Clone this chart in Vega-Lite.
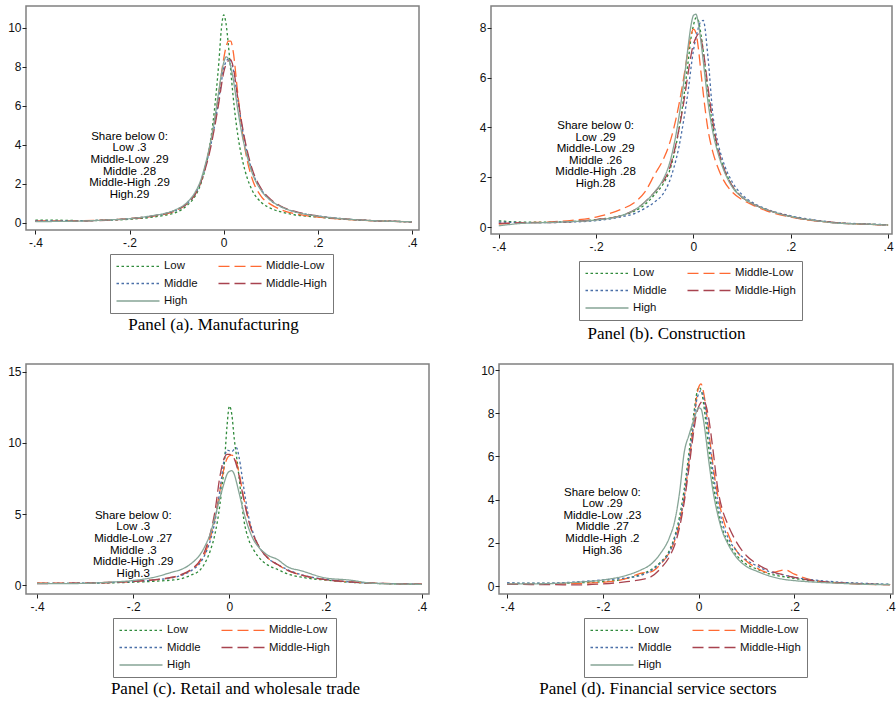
{
  "$schema": "https://vega.github.io/schema/vega-lite/v6.json",
  "background": "white",
  "padding": {"left": 6, "top": 5, "right": 3, "bottom": 3},
  "config": {
    "view": {"stroke": "#808080", "strokeWidth": 1.5},
    "font": "Liberation Sans",
    "axis": {"grid": false, "domain": false, "ticks": true, "tickColor": "#222", "tickSize": 4, "tickWidth": 1, "labelFont": "Liberation Sans", "labelFontSize": 12, "labelColor": "#111"},
    "axisX": {"labelPadding": 3},
    "axisY": {"labelPadding": 1, "labelAngle": 0},
    "legend": {"direction": "horizontal", "columns": 2, "gridAlign": "each", "symbolType": "M-4.3,0H4.3", "symbolSize": 100, "symbolOffset": 16, "labelOffset": 20, "symbolStrokeWidth": 1.3, "labelFont": "Liberation Sans", "labelFontSize": 11.4, "labelColor": "#111", "strokeColor": "#777", "padding": 6, "rowPadding": 5.5, "columnPadding": 17},
    "title": {"orient": "bottom", "anchor": "middle", "frame": "group", "offset": 3, "font": "Liberation Serif", "fontSize": 17, "fontWeight": "normal", "color": "#000"},
    "line": {"strokeWidth": 1.3, "interpolate": "monotone"}
  },
  "spacing": 20,
  "resolve": {"scale": {"color": "independent", "strokeDash": "independent"}, "legend": {"color": "independent", "strokeDash": "independent"}},
  "vconcat": [
    {
      "spacing": 58,
      "resolve": {"scale": {"color": "independent", "strokeDash": "independent"}, "legend": {"color": "independent", "strokeDash": "independent"}},
      "hconcat": [
        {
          "width": 393, "height": 224,
          "title": {"text": "Panel (a). Manufacturing", "dx": -9},
          "layer": [
            {
              "data": {"values": [
                {"x": -0.4, "Low": 0.15, "Middle-Low": 0.1, "Middle": 0.1, "Middle-High": 0.08, "High": 0.07},
                {"x": -0.35, "Low": 0.14, "Middle-Low": 0.1, "Middle": 0.1, "Middle-High": 0.08, "High": 0.08},
                {"x": -0.3, "Low": 0.12, "Middle-Low": 0.12, "Middle": 0.11, "Middle-High": 0.1, "High": 0.1},
                {"x": -0.25, "Low": 0.14, "Middle-Low": 0.15, "Middle": 0.15, "Middle-High": 0.14, "High": 0.15},
                {"x": -0.2, "Low": 0.19, "Middle-Low": 0.22, "Middle": 0.22, "Middle-High": 0.21, "High": 0.22},
                {"x": -0.15, "Low": 0.3, "Middle-Low": 0.35, "Middle": 0.36, "Middle-High": 0.36, "High": 0.38},
                {"x": -0.12, "Low": 0.42, "Middle-Low": 0.48, "Middle": 0.5, "Middle-High": 0.5, "High": 0.52},
                {"x": -0.1, "Low": 0.55, "Middle-Low": 0.65, "Middle": 0.66, "Middle-High": 0.68, "High": 0.7},
                {"x": -0.08, "Low": 0.85, "Middle-Low": 0.95, "Middle": 0.95, "Middle-High": 0.95, "High": 1.0},
                {"x": -0.06, "Low": 1.4, "Middle-Low": 1.5, "Middle": 1.5, "Middle-High": 1.5, "High": 1.6},
                {"x": -0.05, "Low": 1.9, "Middle-Low": 2.0, "Middle": 2.0, "Middle-High": 2.0, "High": 2.1},
                {"x": -0.04, "Low": 2.7, "Middle-Low": 2.8, "Middle": 2.8, "Middle-High": 2.7, "High": 2.9},
                {"x": -0.03, "Low": 3.9, "Middle-Low": 3.8, "Middle": 3.7, "Middle-High": 3.6, "High": 3.9},
                {"x": -0.02, "Low": 5.7, "Middle-Low": 5.1, "Middle": 4.9, "Middle-High": 4.8, "High": 5.2},
                {"x": -0.01, "Low": 8.3, "Middle-Low": 6.7, "Middle": 6.4, "Middle-High": 6.2, "High": 6.8},
                {"x": -0.005, "Low": 9.9, "Middle-Low": 7.6, "Middle": 7.2, "Middle-High": 7.0, "High": 7.6},
                {"x": 0, "Low": 10.65, "Middle-Low": 8.4, "Middle": 7.9, "Middle-High": 7.7, "High": 8.2},
                {"x": 0.005, "Low": 10.2, "Middle-Low": 9.0, "Middle": 8.25, "Middle-High": 8.1, "High": 8.5},
                {"x": 0.01, "Low": 9.1, "Middle-Low": 9.3, "Middle": 8.4, "Middle-High": 8.3, "High": 8.4},
                {"x": 0.015, "Low": 7.8, "Middle-Low": 9.3, "Middle": 8.3, "Middle-High": 8.35, "High": 8.0},
                {"x": 0.02, "Low": 6.5, "Middle-Low": 8.8, "Middle": 7.9, "Middle-High": 8.0, "High": 7.4},
                {"x": 0.03, "Low": 4.5, "Middle-Low": 6.6, "Middle": 6.3, "Middle-High": 6.4, "High": 5.8},
                {"x": 0.04, "Low": 3.2, "Middle-Low": 4.6, "Middle": 4.8, "Middle-High": 4.9, "High": 4.4},
                {"x": 0.05, "Low": 2.3, "Middle-Low": 3.2, "Middle": 3.6, "Middle-High": 3.7, "High": 3.4},
                {"x": 0.06, "Low": 1.7, "Middle-Low": 2.3, "Middle": 2.7, "Middle-High": 2.8, "High": 2.6},
                {"x": 0.08, "Low": 1.05, "Middle-Low": 1.35, "Middle": 1.7, "Middle-High": 1.75, "High": 1.65},
                {"x": 0.1, "Low": 0.75, "Middle-Low": 0.95, "Middle": 1.15, "Middle-High": 1.2, "High": 1.15},
                {"x": 0.12, "Low": 0.58, "Middle-Low": 0.7, "Middle": 0.85, "Middle-High": 0.88, "High": 0.85},
                {"x": 0.15, "Low": 0.42, "Middle-Low": 0.48, "Middle": 0.58, "Middle-High": 0.6, "High": 0.58},
                {"x": 0.2, "Low": 0.3, "Middle-Low": 0.3, "Middle": 0.36, "Middle-High": 0.36, "High": 0.35},
                {"x": 0.25, "Low": 0.2, "Middle-Low": 0.2, "Middle": 0.22, "Middle-High": 0.22, "High": 0.22},
                {"x": 0.3, "Low": 0.13, "Middle-Low": 0.13, "Middle": 0.14, "Middle-High": 0.14, "High": 0.14},
                {"x": 0.35, "Low": 0.09, "Middle-Low": 0.09, "Middle": 0.09, "Middle-High": 0.09, "High": 0.09},
                {"x": 0.4, "Low": 0.06, "Middle-Low": 0.06, "Middle": 0.06, "Middle-High": 0.06, "High": 0.06}
              ]},
              "transform": [{"fold": ["Low", "Middle-Low", "Middle", "Middle-High", "High"], "as": ["group", "density"]}],
              "mark": {"type": "line", "clip": true},
              "encoding": {
                "x": {"field": "x", "type": "quantitative", "scale": {"domain": [-0.42, 0.415], "nice": false, "zero": false}, "axis": {"title": null, "values": [-0.4, -0.2, 0, 0.2, 0.4], "labelExpr": "datum.value == 0 ? '0' : (datum.value < 0 ? '-' : '') + replace(format(abs(datum.value), '.1f'), '0.', '.')"}},
                "y": {"field": "density", "type": "quantitative", "scale": {"domain": [-0.36, 11.1], "nice": false, "zero": false}, "axis": {"title": null, "values": [0, 2, 4, 6, 8, 10]}},
                "color": {"field": "group", "type": "nominal", "scale": {"domain": ["Low", "Middle-Low", "Middle", "Middle-High", "High"], "range": ["#2f8a3b", "#ff6a33", "#4a6fa8", "#a8434f", "#87a597"]}, "legend": {"title": null, "orient": "none", "legendX": 84, "legendY": 248}},
                "strokeDash": {"field": "group", "type": "nominal", "scale": {"domain": ["Low", "Middle-Low", "Middle", "Middle-High", "High"], "range": [[2.5, 2.5], [11, 5], [2.5, 2.5], [11, 5], [1, 0]]}}
              }
            },
            {
              "data": {"values": [{"x": -0.2, "y": 4.72, "label": ["Share below 0:", "Low .3", "Middle-Low .29", "Middle .28", "Middle-High .29", "High.29"]}]},
              "mark": {"type": "text", "align": "center", "baseline": "top", "font": "Liberation Sans", "fontSize": 11.5, "lineHeight": 11.6, "color": "#000"},
              "encoding": {
                "x": {"field": "x", "type": "quantitative", "scale": {"domain": [-0.42, 0.415], "nice": false, "zero": false}},
                "y": {"field": "y", "type": "quantitative", "scale": {"domain": [-0.36, 11.1], "nice": false, "zero": false}},
                "text": {"field": "label"}
              }
            }
          ]
        },
        {
          "width": 401, "height": 228,
          "title": {"text": "Panel (b). Construction", "dx": -25, "offset": 5},
          "layer": [
            {
              "data": {"values": [
                {"x": -0.4, "Low": 0.25, "Middle-Low": 0.12, "Middle": 0.2, "Middle-High": 0.15, "High": 0.05},
                {"x": -0.35, "Low": 0.2, "Middle-Low": 0.17, "Middle": 0.18, "Middle-High": 0.17, "High": 0.15},
                {"x": -0.3, "Low": 0.2, "Middle-Low": 0.2, "Middle": 0.18, "Middle-High": 0.18, "High": 0.18},
                {"x": -0.25, "Low": 0.22, "Middle-Low": 0.27, "Middle": 0.2, "Middle-High": 0.22, "High": 0.22},
                {"x": -0.2, "Low": 0.3, "Middle-Low": 0.4, "Middle": 0.26, "Middle-High": 0.3, "High": 0.28},
                {"x": -0.15, "Low": 0.45, "Middle-Low": 0.7, "Middle": 0.4, "Middle-High": 0.45, "High": 0.45},
                {"x": -0.12, "Low": 0.65, "Middle-Low": 1.0, "Middle": 0.55, "Middle-High": 0.7, "High": 0.7},
                {"x": -0.1, "Low": 0.9, "Middle-Low": 1.4, "Middle": 0.75, "Middle-High": 1.0, "High": 1.0},
                {"x": -0.08, "Low": 1.3, "Middle-Low": 2.1, "Middle": 1.0, "Middle-High": 1.4, "High": 1.4},
                {"x": -0.06, "Low": 1.8, "Middle-Low": 2.8, "Middle": 1.4, "Middle-High": 1.9, "High": 2.0},
                {"x": -0.05, "Low": 2.2, "Middle-Low": 3.3, "Middle": 1.8, "Middle-High": 2.3, "High": 2.5},
                {"x": -0.04, "Low": 2.9, "Middle-Low": 4.0, "Middle": 2.4, "Middle-High": 3.0, "High": 3.3},
                {"x": -0.03, "Low": 3.9, "Middle-Low": 4.9, "Middle": 3.2, "Middle-High": 3.9, "High": 4.4},
                {"x": -0.02, "Low": 5.2, "Middle-Low": 6.0, "Middle": 4.3, "Middle-High": 5.0, "High": 5.8},
                {"x": -0.01, "Low": 6.8, "Middle-Low": 7.2, "Middle": 5.6, "Middle-High": 6.3, "High": 7.4},
                {"x": -0.005, "Low": 7.6, "Middle-Low": 7.7, "Middle": 6.4, "Middle-High": 6.9, "High": 8.1},
                {"x": 0, "Low": 8.1, "Middle-Low": 7.95, "Middle": 7.1, "Middle-High": 7.35, "High": 8.5},
                {"x": 0.005, "Low": 8.4, "Middle-Low": 7.8, "Middle": 7.6, "Middle-High": 7.6, "High": 8.55},
                {"x": 0.01, "Low": 8.3, "Middle-Low": 7.2, "Middle": 8.0, "Middle-High": 7.75, "High": 8.2},
                {"x": 0.015, "Low": 7.8, "Middle-Low": 6.3, "Middle": 8.25, "Middle-High": 7.6, "High": 7.5},
                {"x": 0.02, "Low": 7.1, "Middle-Low": 5.4, "Middle": 8.3, "Middle-High": 7.1, "High": 6.7},
                {"x": 0.03, "Low": 5.4, "Middle-Low": 3.9, "Middle": 6.8, "Middle-High": 5.6, "High": 5.0},
                {"x": 0.04, "Low": 4.0, "Middle-Low": 3.0, "Middle": 4.5, "Middle-High": 4.2, "High": 3.8},
                {"x": 0.05, "Low": 3.1, "Middle-Low": 2.4, "Middle": 3.4, "Middle-High": 3.2, "High": 3.0},
                {"x": 0.06, "Low": 2.5, "Middle-Low": 1.95, "Middle": 2.7, "Middle-High": 2.5, "High": 2.4},
                {"x": 0.08, "Low": 1.65, "Middle-Low": 1.4, "Middle": 1.8, "Middle-High": 1.65, "High": 1.6},
                {"x": 0.1, "Low": 1.2, "Middle-Low": 1.1, "Middle": 1.3, "Middle-High": 1.2, "High": 1.2},
                {"x": 0.12, "Low": 0.95, "Middle-Low": 0.9, "Middle": 1.0, "Middle-High": 0.95, "High": 0.95},
                {"x": 0.15, "Low": 0.7, "Middle-Low": 0.65, "Middle": 0.72, "Middle-High": 0.7, "High": 0.7},
                {"x": 0.2, "Low": 0.42, "Middle-Low": 0.4, "Middle": 0.45, "Middle-High": 0.42, "High": 0.42},
                {"x": 0.25, "Low": 0.26, "Middle-Low": 0.25, "Middle": 0.28, "Middle-High": 0.26, "High": 0.26},
                {"x": 0.3, "Low": 0.16, "Middle-Low": 0.16, "Middle": 0.17, "Middle-High": 0.16, "High": 0.15},
                {"x": 0.35, "Low": 0.12, "Middle-Low": 0.12, "Middle": 0.13, "Middle-High": 0.12, "High": 0.12},
                {"x": 0.4, "Low": 0.08, "Middle-Low": 0.08, "Middle": 0.09, "Middle-High": 0.08, "High": 0.08}
              ]},
              "transform": [{"fold": ["Low", "Middle-Low", "Middle", "Middle-High", "High"], "as": ["group", "density"]}],
              "mark": {"type": "line", "clip": true},
              "encoding": {
                "x": {"field": "x", "type": "quantitative", "scale": {"domain": [-0.416, 0.408], "nice": false, "zero": false}, "axis": {"title": null, "values": [-0.4, -0.2, 0, 0.2, 0.4], "labelExpr": "datum.value == 0 ? '0' : (datum.value < 0 ? '-' : '') + replace(format(abs(datum.value), '.1f'), '0.', '.')"}},
                "y": {"field": "density", "type": "quantitative", "scale": {"domain": [-0.28, 8.88], "nice": false, "zero": false}, "axis": {"title": null, "values": [0, 2, 4, 6, 8]}},
                "color": {"field": "group", "type": "nominal", "scale": {"domain": ["Low", "Middle-Low", "Middle", "Middle-High", "High"], "range": ["#2f8a3b", "#ff6a33", "#4a6fa8", "#a8434f", "#87a597"]}, "legend": {"title": null, "orient": "none", "legendX": 88, "legendY": 255}},
                "strokeDash": {"field": "group", "type": "nominal", "scale": {"domain": ["Low", "Middle-Low", "Middle", "Middle-High", "High"], "range": [[2.5, 2.5], [11, 5], [2.5, 2.5], [11, 5], [1, 0]]}}
              }
            },
            {
              "data": {"values": [{"x": -0.201, "y": 4.3, "label": ["Share below 0:", "Low .29", "Middle-Low .29", "Middle .26", "Middle-High .28", "High.28"]}]},
              "mark": {"type": "text", "align": "center", "baseline": "top", "font": "Liberation Sans", "fontSize": 11.5, "lineHeight": 11.6, "color": "#000"},
              "encoding": {
                "x": {"field": "x", "type": "quantitative", "scale": {"domain": [-0.416, 0.408], "nice": false, "zero": false}},
                "y": {"field": "y", "type": "quantitative", "scale": {"domain": [-0.28, 8.88], "nice": false, "zero": false}},
                "text": {"field": "label"}
              }
            }
          ]
        }
      ]
    },
    {
      "spacing": 49,
      "resolve": {"scale": {"color": "independent", "strokeDash": "independent"}, "legend": {"color": "independent", "strokeDash": "independent"}},
      "hconcat": [
        {
          "width": 403, "height": 230,
          "title": {"text": "Panel (c). Retail and wholesale trade", "dx": 8},
          "layer": [
            {
              "data": {"values": [
                {"x": -0.4, "Low": 0.12, "Middle-Low": 0.15, "Middle": 0.12, "Middle-High": 0.1, "High": 0.1},
                {"x": -0.35, "Low": 0.12, "Middle-Low": 0.13, "Middle": 0.12, "Middle-High": 0.12, "High": 0.1},
                {"x": -0.3, "Low": 0.12, "Middle-Low": 0.14, "Middle": 0.14, "Middle-High": 0.14, "High": 0.12},
                {"x": -0.25, "Low": 0.15, "Middle-Low": 0.18, "Middle": 0.18, "Middle-High": 0.18, "High": 0.2},
                {"x": -0.2, "Low": 0.2, "Middle-Low": 0.25, "Middle": 0.25, "Middle-High": 0.26, "High": 0.32},
                {"x": -0.15, "Low": 0.28, "Middle-Low": 0.38, "Middle": 0.38, "Middle-High": 0.4, "High": 0.6},
                {"x": -0.12, "Low": 0.35, "Middle-Low": 0.52, "Middle": 0.5, "Middle-High": 0.55, "High": 0.9},
                {"x": -0.1, "Low": 0.45, "Middle-Low": 0.7, "Middle": 0.68, "Middle-High": 0.75, "High": 1.1},
                {"x": -0.08, "Low": 0.7, "Middle-Low": 1.05, "Middle": 1.0, "Middle-High": 1.1, "High": 1.5},
                {"x": -0.06, "Low": 1.1, "Middle-Low": 1.7, "Middle": 1.6, "Middle-High": 1.8, "High": 2.2},
                {"x": -0.05, "Low": 1.6, "Middle-Low": 2.3, "Middle": 2.2, "Middle-High": 2.5, "High": 2.8},
                {"x": -0.04, "Low": 2.4, "Middle-Low": 3.3, "Middle": 3.1, "Middle-High": 3.6, "High": 3.6},
                {"x": -0.03, "Low": 3.6, "Middle-Low": 4.7, "Middle": 4.5, "Middle-High": 5.2, "High": 4.8},
                {"x": -0.02, "Low": 5.6, "Middle-Low": 6.6, "Middle": 6.6, "Middle-High": 7.6, "High": 6.1},
                {"x": -0.01, "Low": 8.8, "Middle-Low": 8.4, "Middle": 9.0, "Middle-High": 9.0, "High": 7.3},
                {"x": -0.005, "Low": 11.2, "Middle-Low": 8.9, "Middle": 9.5, "Middle-High": 9.2, "High": 7.8},
                {"x": 0, "Low": 12.6, "Middle-Low": 9.1, "Middle": 9.45, "Middle-High": 9.2, "High": 8.0},
                {"x": 0.005, "Low": 12.0, "Middle-Low": 9.15, "Middle": 9.4, "Middle-High": 9.15, "High": 8.05},
                {"x": 0.01, "Low": 10.3, "Middle-Low": 9.0, "Middle": 9.55, "Middle-High": 8.9, "High": 7.8},
                {"x": 0.015, "Low": 9.0, "Middle-Low": 8.6, "Middle": 9.65, "Middle-High": 8.4, "High": 7.2},
                {"x": 0.02, "Low": 7.6, "Middle-Low": 7.9, "Middle": 9.0, "Middle-High": 7.7, "High": 6.5},
                {"x": 0.03, "Low": 4.6, "Middle-Low": 6.1, "Middle": 6.8, "Middle-High": 6.0, "High": 5.1},
                {"x": 0.04, "Low": 3.2, "Middle-Low": 4.6, "Middle": 4.8, "Middle-High": 4.5, "High": 4.0},
                {"x": 0.05, "Low": 2.5, "Middle-Low": 3.5, "Middle": 3.6, "Middle-High": 3.5, "High": 3.2},
                {"x": 0.06, "Low": 2.0, "Middle-Low": 2.8, "Middle": 2.8, "Middle-High": 2.8, "High": 2.7},
                {"x": 0.08, "Low": 1.4, "Middle-Low": 1.9, "Middle": 1.9, "Middle-High": 1.9, "High": 2.1},
                {"x": 0.1, "Low": 1.1, "Middle-Low": 1.45, "Middle": 1.45, "Middle-High": 1.45, "High": 1.8},
                {"x": 0.12, "Low": 0.8, "Middle-Low": 1.05, "Middle": 1.1, "Middle-High": 1.05, "High": 1.3},
                {"x": 0.15, "Low": 0.55, "Middle-Low": 0.7, "Middle": 0.72, "Middle-High": 0.7, "High": 1.0},
                {"x": 0.2, "Low": 0.35, "Middle-Low": 0.38, "Middle": 0.4, "Middle-High": 0.38, "High": 0.5},
                {"x": 0.25, "Low": 0.2, "Middle-Low": 0.22, "Middle": 0.22, "Middle-High": 0.22, "High": 0.35},
                {"x": 0.3, "Low": 0.12, "Middle-Low": 0.13, "Middle": 0.13, "Middle-High": 0.13, "High": 0.12},
                {"x": 0.35, "Low": 0.08, "Middle-Low": 0.09, "Middle": 0.09, "Middle-High": 0.09, "High": 0.08},
                {"x": 0.4, "Low": 0.05, "Middle-Low": 0.06, "Middle": 0.06, "Middle-High": 0.06, "High": 0.05}
              ]},
              "transform": [{"fold": ["Low", "Middle-Low", "Middle", "Middle-High", "High"], "as": ["group", "density"]}],
              "mark": {"type": "line", "clip": true},
              "encoding": {
                "x": {"field": "x", "type": "quantitative", "scale": {"domain": [-0.423, 0.415], "nice": false, "zero": false}, "axis": {"title": null, "values": [-0.4, -0.2, 0, 0.2, 0.4], "labelExpr": "datum.value == 0 ? '0' : (datum.value < 0 ? '-' : '') + replace(format(abs(datum.value), '.1f'), '0.', '.')"}},
                "y": {"field": "density", "type": "quantitative", "scale": {"domain": [-0.63, 15.56], "nice": false, "zero": false}, "axis": {"title": null, "values": [0, 5, 10, 15]}},
                "color": {"field": "group", "type": "nominal", "scale": {"domain": ["Low", "Middle-Low", "Middle", "Middle-High", "High"], "range": ["#2f8a3b", "#ff6a33", "#4a6fa8", "#a8434f", "#87a597"]}, "legend": {"title": null, "orient": "none", "legendX": 87, "legendY": 254}},
                "strokeDash": {"field": "group", "type": "nominal", "scale": {"domain": ["Low", "Middle-Low", "Middle", "Middle-High", "High"], "range": [[2.5, 2.5], [11, 5], [2.5, 2.5], [11, 5], [1, 0]]}}
              }
            },
            {
              "data": {"values": [{"x": -0.2, "y": 5.3, "label": ["Share below 0:", "Low .3", "Middle-Low .27", "Middle .3", "Middle-High .29", "High.3"]}]},
              "mark": {"type": "text", "align": "center", "baseline": "top", "font": "Liberation Sans", "fontSize": 11.5, "lineHeight": 11.6, "color": "#000"},
              "encoding": {
                "x": {"field": "x", "type": "quantitative", "scale": {"domain": [-0.423, 0.415], "nice": false, "zero": false}},
                "y": {"field": "y", "type": "quantitative", "scale": {"domain": [-0.63, 15.56], "nice": false, "zero": false}},
                "text": {"field": "label"}
              }
            }
          ]
        },
        {
          "width": 394, "height": 230,
          "title": {"text": "Panel (d). Financial service sectors", "dx": -38},
          "layer": [
            {
              "data": {"values": [
                {"x": -0.4, "Low": 0.12, "Middle-Low": 0.1, "Middle": 0.15, "Middle-High": 0.08, "High": 0.1},
                {"x": -0.35, "Low": 0.12, "Middle-Low": 0.1, "Middle": 0.13, "Middle-High": 0.07, "High": 0.1},
                {"x": -0.3, "Low": 0.12, "Middle-Low": 0.1, "Middle": 0.14, "Middle-High": 0.06, "High": 0.12},
                {"x": -0.25, "Low": 0.15, "Middle-Low": 0.12, "Middle": 0.2, "Middle-High": 0.05, "High": 0.18},
                {"x": -0.2, "Low": 0.2, "Middle-Low": 0.17, "Middle": 0.28, "Middle-High": 0.1, "High": 0.28},
                {"x": -0.15, "Low": 0.35, "Middle-Low": 0.35, "Middle": 0.38, "Middle-High": 0.2, "High": 0.5},
                {"x": -0.12, "Low": 0.55, "Middle-Low": 0.6, "Middle": 0.5, "Middle-High": 0.3, "High": 0.75},
                {"x": -0.1, "Low": 0.75, "Middle-Low": 0.65, "Middle": 0.7, "Middle-High": 0.42, "High": 1.0},
                {"x": -0.08, "Low": 1.1, "Middle-Low": 1.0, "Middle": 1.05, "Middle-High": 0.8, "High": 1.5},
                {"x": -0.06, "Low": 1.7, "Middle-Low": 1.6, "Middle": 1.6, "Middle-High": 1.4, "High": 2.3},
                {"x": -0.05, "Low": 2.3, "Middle-Low": 2.1, "Middle": 2.2, "Middle-High": 1.9, "High": 3.0},
                {"x": -0.04, "Low": 3.2, "Middle-Low": 2.9, "Middle": 3.0, "Middle-High": 2.7, "High": 4.3},
                {"x": -0.03, "Low": 4.5, "Middle-Low": 4.1, "Middle": 4.2, "Middle-High": 3.9, "High": 6.2},
                {"x": -0.02, "Low": 6.2, "Middle-Low": 5.8, "Middle": 5.9, "Middle-High": 5.5, "High": 7.0},
                {"x": -0.01, "Low": 8.0, "Middle-Low": 7.6, "Middle": 7.6, "Middle-High": 7.2, "High": 7.7},
                {"x": -0.005, "Low": 8.8, "Middle-Low": 8.6, "Middle": 8.5, "Middle-High": 7.9, "High": 8.05},
                {"x": 0, "Low": 9.2, "Middle-Low": 9.2, "Middle": 8.9, "Middle-High": 8.3, "High": 8.25},
                {"x": 0.005, "Low": 9.1, "Middle-Low": 9.36, "Middle": 9.05, "Middle-High": 8.5, "High": 8.2},
                {"x": 0.01, "Low": 8.5, "Middle-Low": 9.0, "Middle": 8.8, "Middle-High": 8.6, "High": 7.7},
                {"x": 0.015, "Low": 7.6, "Middle-Low": 8.3, "Middle": 8.1, "Middle-High": 8.4, "High": 6.9},
                {"x": 0.02, "Low": 6.6, "Middle-Low": 7.4, "Middle": 7.2, "Middle-High": 7.9, "High": 6.0},
                {"x": 0.03, "Low": 4.8, "Middle-Low": 5.6, "Middle": 5.3, "Middle-High": 6.3, "High": 4.4},
                {"x": 0.04, "Low": 3.5, "Middle-Low": 4.2, "Middle": 3.9, "Middle-High": 4.5, "High": 3.3},
                {"x": 0.05, "Low": 2.6, "Middle-Low": 3.2, "Middle": 2.9, "Middle-High": 3.5, "High": 2.5},
                {"x": 0.06, "Low": 2.1, "Middle-Low": 2.5, "Middle": 2.3, "Middle-High": 2.9, "High": 2.0},
                {"x": 0.08, "Low": 1.4, "Middle-Low": 1.6, "Middle": 1.6, "Middle-High": 2.0, "High": 1.3},
                {"x": 0.1, "Low": 1.0, "Middle-Low": 1.15, "Middle": 1.2, "Middle-High": 1.4, "High": 0.9},
                {"x": 0.12, "Low": 0.8, "Middle-Low": 0.85, "Middle": 0.95, "Middle-High": 1.05, "High": 0.7},
                {"x": 0.15, "Low": 0.55, "Middle-Low": 0.6, "Middle": 0.65, "Middle-High": 0.7, "High": 0.45},
                {"x": 0.18, "Low": 0.42, "Middle-Low": 0.75, "Middle": 0.5, "Middle-High": 0.5, "High": 0.3},
                {"x": 0.2, "Low": 0.35, "Middle-Low": 0.55, "Middle": 0.4, "Middle-High": 0.4, "High": 0.25},
                {"x": 0.25, "Low": 0.22, "Middle-Low": 0.22, "Middle": 0.26, "Middle-High": 0.22, "High": 0.17},
                {"x": 0.3, "Low": 0.15, "Middle-Low": 0.13, "Middle": 0.17, "Middle-High": 0.14, "High": 0.12},
                {"x": 0.35, "Low": 0.1, "Middle-Low": 0.08, "Middle": 0.12, "Middle-High": 0.09, "High": 0.08},
                {"x": 0.4, "Low": 0.07, "Middle-Low": 0.06, "Middle": 0.08, "Middle-High": 0.06, "High": 0.06}
              ]},
              "transform": [{"fold": ["Low", "Middle-Low", "Middle", "Middle-High", "High"], "as": ["group", "density"]}],
              "mark": {"type": "line", "clip": true},
              "encoding": {
                "x": {"field": "x", "type": "quantitative", "scale": {"domain": [-0.417, 0.406], "nice": false, "zero": false}, "axis": {"title": null, "values": [-0.4, -0.2, 0, 0.2, 0.4], "labelExpr": "datum.value == 0 ? '0' : (datum.value < 0 ? '-' : '') + replace(format(abs(datum.value), '.1f'), '0.', '.')"}},
                "y": {"field": "density", "type": "quantitative", "scale": {"domain": [-0.37, 10.28], "nice": false, "zero": false}, "axis": {"title": null, "values": [0, 2, 4, 6, 8, 10]}},
                "color": {"field": "group", "type": "nominal", "scale": {"domain": ["Low", "Middle-Low", "Middle", "Middle-High", "High"], "range": ["#2f8a3b", "#ff6a33", "#4a6fa8", "#a8434f", "#87a597"]}, "legend": {"title": null, "orient": "none", "legendX": 85, "legendY": 254}},
                "strokeDash": {"field": "group", "type": "nominal", "scale": {"domain": ["Low", "Middle-Low", "Middle", "Middle-High", "High"], "range": [[2.5, 2.5], [11, 5], [2.5, 2.5], [11, 5], [1, 0]]}}
              }
            },
            {
              "data": {"values": [{"x": -0.201, "y": 4.6, "label": ["Share below 0:", "Low .29", "Middle-Low .23", "Middle .27", "Middle-High .2", "High.36"]}]},
              "mark": {"type": "text", "align": "center", "baseline": "top", "font": "Liberation Sans", "fontSize": 11.5, "lineHeight": 11.6, "color": "#000"},
              "encoding": {
                "x": {"field": "x", "type": "quantitative", "scale": {"domain": [-0.417, 0.406], "nice": false, "zero": false}},
                "y": {"field": "y", "type": "quantitative", "scale": {"domain": [-0.37, 10.28], "nice": false, "zero": false}},
                "text": {"field": "label"}
              }
            }
          ]
        }
      ]
    }
  ]
}
